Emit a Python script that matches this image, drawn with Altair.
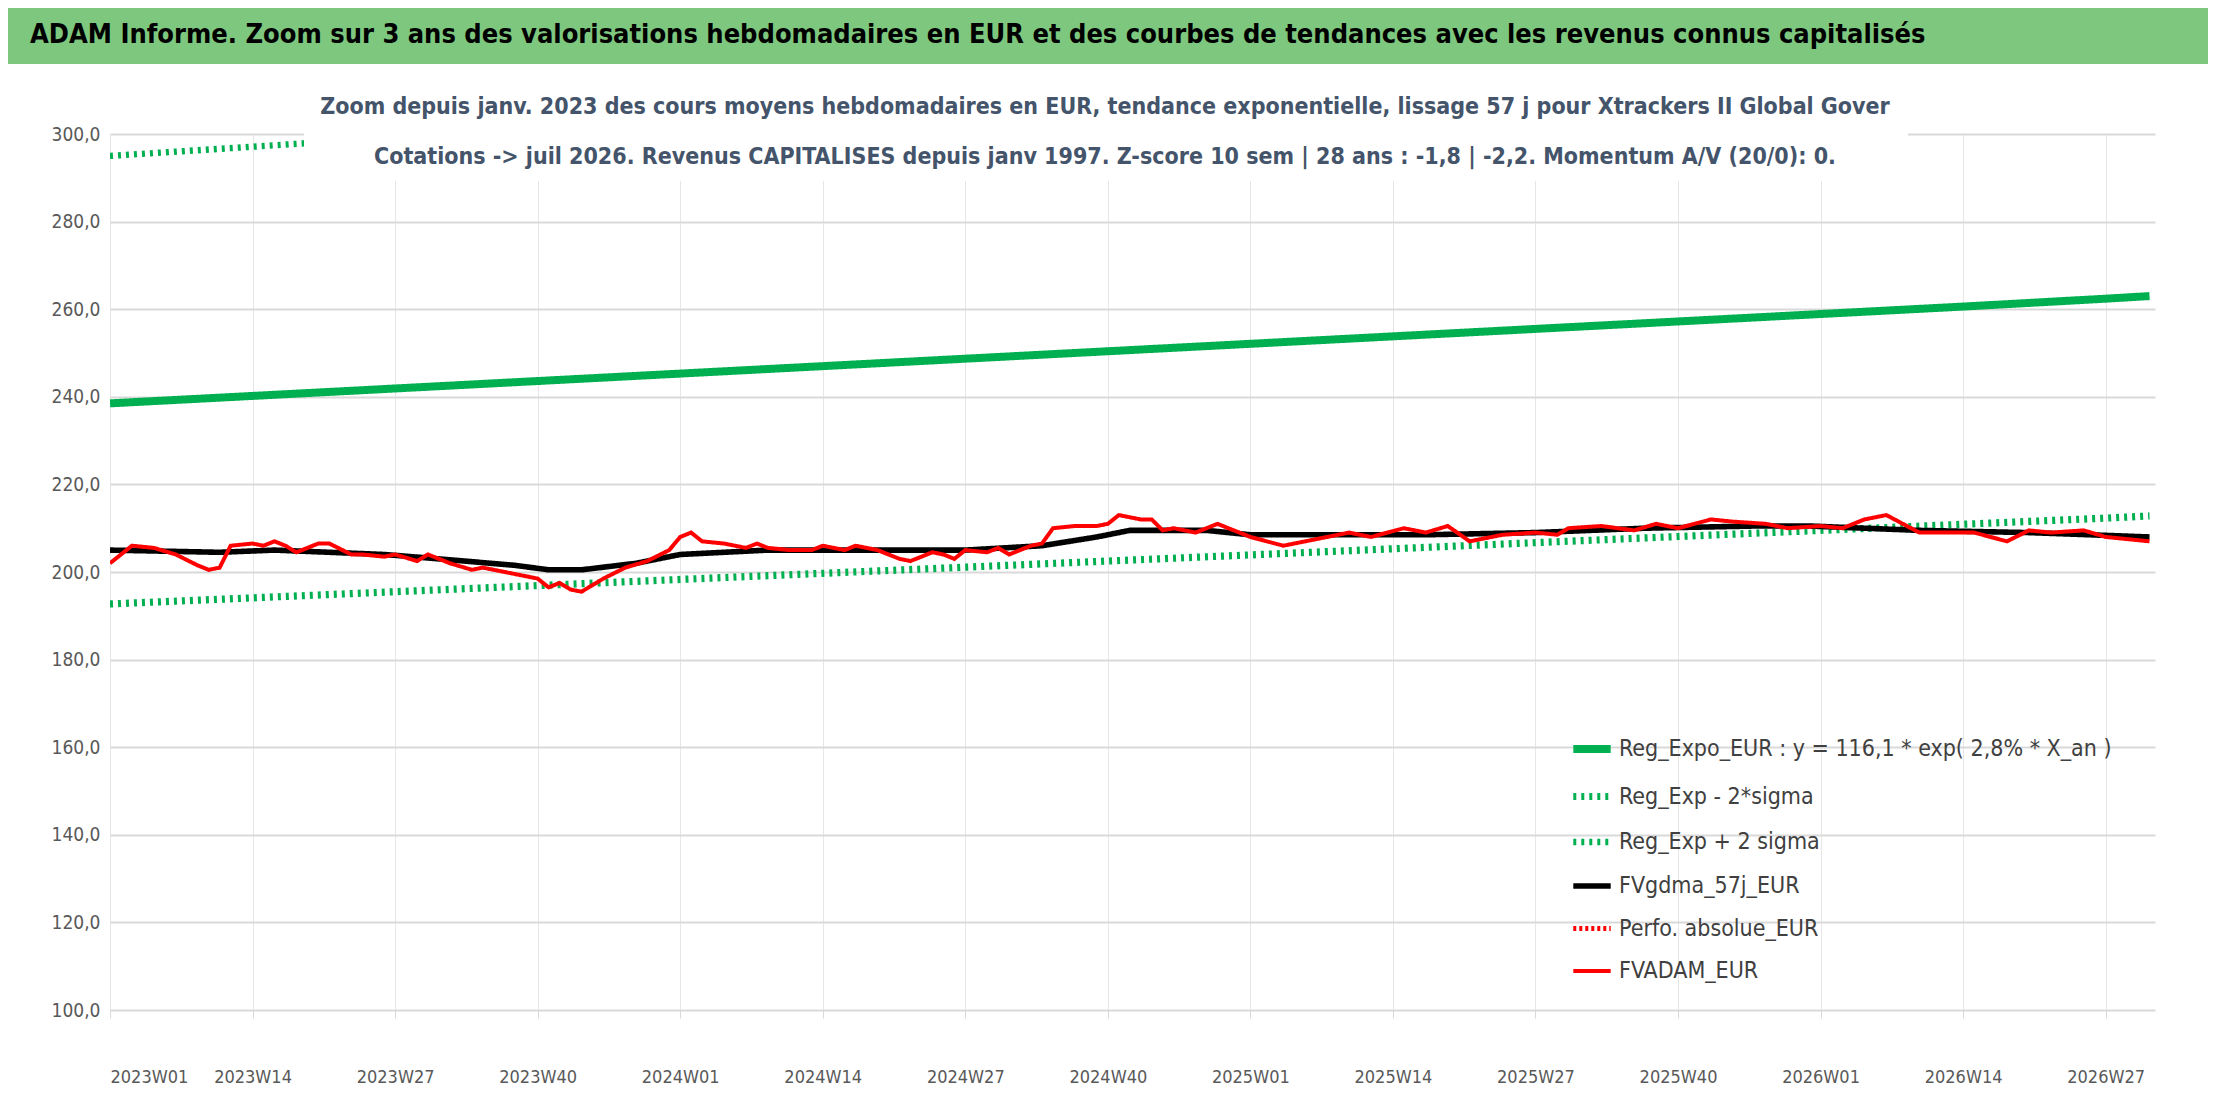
import altair as alt
import pandas as pd

tick_labels = ["2023W01", "2023W14", "2023W27", "2023W40", "2024W01", "2024W14", "2024W27",
               "2024W40", "2025W01", "2025W14", "2025W27", "2025W40", "2026W01", "2026W14", "2026W27"]
tick_weeks = [0, 13, 26, 39, 52, 65, 78, 91, 104, 117, 130, 143, 156, 169, 182]

trend_weeks = [0, 13, 26, 39, 52, 65, 78, 91, 104, 117, 130, 143, 156, 169, 182, 186]
reg_expo = [238.5, 240.2, 241.9, 243.6, 245.3, 247.0, 248.7, 250.4, 252.1, 253.8, 255.5, 257.2, 258.9, 260.6, 262.4, 263.0]
reg_low = [192.7, 194.1, 195.5, 196.9, 198.3, 199.7, 201.1, 202.5, 203.9, 205.3, 206.7, 208.1, 209.5, 210.9, 212.3, 212.8]
reg_high = [295.0, 297.1, 299.2, 301.3, 303.4, 305.5, 307.6, 309.7, 311.8, 313.9, 316.0, 318.1, 320.2, 322.3, 324.4, 325.0]

fvgdma_weeks = [0, 10, 15, 25, 30, 37, 40, 43, 48, 52, 60, 78, 85, 90, 93, 100, 104, 120, 130, 140, 150, 155, 165, 175, 186]
fvgdma = [205, 204.5, 205, 204, 203, 201.5, 200.5, 200.5, 202, 204, 205, 205, 206, 208, 209.5, 209.5, 208.5,
          208.5, 209, 210, 210.5, 210.5, 209.5, 209, 208]

adam_weeks = [0, 2, 4, 6, 8, 9, 10, 11, 13, 14, 15, 16, 17, 19, 20, 22, 23, 25, 26, 28, 29, 31, 33, 34, 35,
              37, 39, 40, 41, 42, 43, 45, 47, 49, 51, 52, 53, 54, 56, 58, 59, 60, 62, 64, 65, 67, 68, 70,
              72, 73, 75, 76, 77, 78, 80, 81, 82, 84, 85, 86, 88, 90, 91, 92, 94, 95, 96, 97, 99,
              101, 104, 107, 110, 113, 115, 118, 120, 122, 124, 127, 130, 132, 133, 136, 139, 141, 143, 146,
              148, 151, 153, 156, 158, 160, 162, 165, 168, 170, 173, 175, 177, 180, 182, 186]
adam = [202, 206, 205.5, 204, 201.5, 200.5, 201, 206, 206.5, 206, 207, 206, 204.5, 206.5, 206.5, 204, 204,
        203.5, 204, 202.5, 204, 202, 200.5, 201, 200.5, 199.5, 198.5, 196.5, 197.5, 196, 195.5, 198.5, 201,
        202.5, 205, 208, 209, 207, 206.5, 205.5, 206.5, 205.5, 205, 205, 206, 205, 206, 205, 203, 202.5,
        204.5, 204, 203, 205, 204.5, 205.5, 204, 206, 206.5, 210, 210.5, 210.5, 211, 213, 212, 212, 209.5,
        210, 209,
        211, 208, 206, 207.5, 209, 208, 210, 209, 210.5, 207, 208.5, 209, 208.5, 210, 210.5, 209.5, 211, 210, 212,
        211.5, 211, 210, 210.5, 210, 212, 213, 209, 209, 209, 207, 209.5, 209, 209.5, 208, 207]

names = ["Reg_Expo_EUR : y = 116,1 * exp( 2,8% *  X_an )", "Reg_Exp - 2*sigma", "Reg_Exp + 2 sigma",
         "FVgdma_57j_EUR", "Perfo. absolue_EUR", "FVADAM_EUR"]

rows = []
for w, v in zip(trend_weeks, reg_expo):
    rows.append({"week": w, "value": v, "serie": names[0]})
for w, v in zip(trend_weeks, reg_low):
    rows.append({"week": w, "value": v, "serie": names[1]})
for w, v in zip(trend_weeks, reg_high):
    rows.append({"week": w, "value": v, "serie": names[2]})
for w, v in zip(fvgdma_weeks, fvgdma):
    rows.append({"week": w, "value": v, "serie": names[3]})
for w, v in zip(adam_weeks, adam):
    rows.append({"week": w, "value": v, "serie": names[5]})
df = pd.DataFrame(rows)

W, H = 2045, 876
FONT = "DejaVu Sans Condensed, Open Sans, sans-serif"
label_arr = "[" + ",".join("'%s'" % t for t in tick_labels) + "]"

lines = alt.Chart(df).mark_line(clip=True).encode(
    x=alt.X("week:Q", scale=alt.Scale(domain=[0, 186.5], nice=False, zero=False), title=None,
            axis=alt.Axis(values=tick_weeks, labelExpr=label_arr + "[round(datum.value/13)]",
                          labelFontSize=18, labelColor="#595959", labelPadding=50, grid=True,
                          gridColor="#E6E6E6", gridWidth=1, domain=False, tickColor="#D9D9D9",
                          tickSize=8, labelFont=FONT)),
    y=alt.Y("value:Q", scale=alt.Scale(domain=[100, 300], nice=False, zero=False), title=None,
            axis=alt.Axis(values=list(range(100, 301, 20)), format=".1f",
                          labelExpr="replace(datum.label, '.', ',')", labelFontSize=19,
                          labelColor="#595959", grid=True, gridColor="#D9D9D9", gridWidth=2,
                          domain=False, ticks=False, labelPadding=10, labelFont=FONT)),
    color=alt.Color("serie:N", sort=names, scale=alt.Scale(domain=names,
                    range=["#00B050", "#00B050", "#00B050", "#000000", "#FF0000", "#FF0000"]),
                    legend=alt.Legend(title=None, orient="none", legendX=1459, legendY=592,
                                      symbolType="stroke", symbolSize=1400, labelFontSize=23,
                                      labelColor="#404040", rowPadding=9, labelFont=FONT,
                                      labelLimit=600)),
    strokeDash=alt.StrokeDash("serie:N", sort=names, scale=alt.Scale(domain=names,
                    range=[[1, 0], [3, 5], [3, 5], [1, 0], [3, 3], [1, 0]]), legend=None),
    strokeWidth=alt.StrokeWidth("serie:N", sort=names, scale=alt.Scale(domain=names,
                    range=[8, 4, 4, 6, 4, 7]), legend=None),
    detail="serie:N",
)

box = pd.DataFrame({"x": [0]})
cover = alt.Chart(box).mark_rect(color="white").encode(
    x=alt.value(194), x2=alt.value(1798), y=alt.value(-46), y2=alt.value(47))

header = alt.Chart(box).mark_rect(color="#7DC87E").encode(
    x=alt.value(-110), x2=alt.value(W + 61), y=alt.value(-134), y2=alt.value(-70))

sub_text = pd.DataFrame({"t": [
    "Zoom depuis janv. 2023 des cours moyens hebdomadaires en EUR, tendance exponentielle, lissage 57 j pour Xtrackers II Global Gover",
    "Cotations -> juil 2026. Revenus CAPITALISES depuis janv 1997. Z-score 10 sem | 28 ans : -1,8 | -2,2. Momentum A/V (20/0): 0."],
    "yy": [-27, 23]})
subs = alt.Chart(sub_text).mark_text(fontSize=23, fontWeight="bold", color="#44546A",
                                     font=FONT, align="center", baseline="middle").encode(
    x=alt.value(995), y=alt.Y("yy:Q", scale=None), text="t:N")

title_df = pd.DataFrame({"t": ["ADAM Informe. Zoom sur 3 ans des valorisations hebdomadaires en EUR et des courbes de tendances avec les revenus connus capitalisés"]})
title = alt.Chart(title_df).mark_text(fontSize=27, fontWeight="bold", color="black",
                                      font=FONT, align="left", baseline="middle").encode(
    x=alt.value(-80), y=alt.value(-99), text="t:N")

chart = alt.layer(header, lines, cover, subs, title).properties(
    width=W, height=H, autosize=alt.AutoSizeParams(type="none"),
    padding={"left": 102, "top": 126, "right": 53, "bottom": 84},
    background="white",
).configure_view(stroke=None)

chart.save("out.html", embed_options={"renderer": "svg", "actions": False})
